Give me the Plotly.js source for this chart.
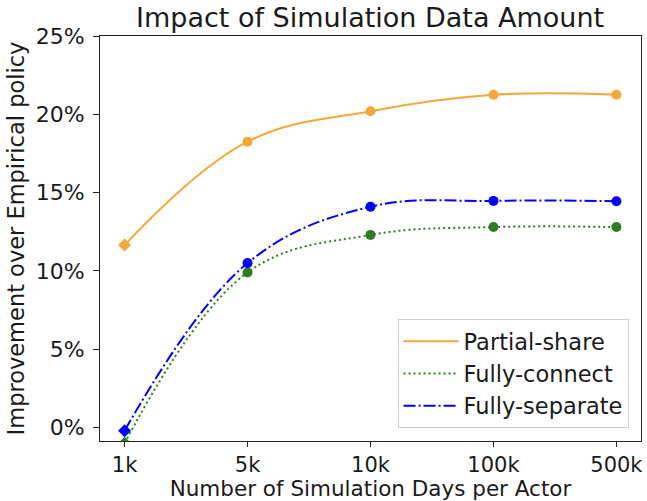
<!DOCTYPE html>
<html><head><meta charset="utf-8">
<script src="https://cdn.plot.ly/plotly-3.0.1.min.js"></script>
<style>body{margin:0;background:#fff}#chart{width:647px;height:501px}</style>
</head><body><div id="chart"></div>
<script>
const categories = ['1k', '5k', '10k', '100k', '500k'];
const partialShare = [11.65, 18.25, 20.2, 21.25, 21.25];
const fullyConnect = [-1.0, 9.9, 12.3, 12.8, 12.8];
const fullySeparate = [-0.2, 10.5, 14.1, 14.47, 14.45];
const yTickVals = [0, 5, 10, 15, 20, 25];
const yTickText = ['0%', '5%', '10%', '15%', '20%', '25%'];

const cOrange = '#f4a83a', cGreen = '#2e7d22', cBlue = '#0000ff';
const symbols = categories.map((c, i) => i === 0 ? 'diamond' : 'circle');

function lineTrace(y, name, color, dash) {
  return {x: categories, y: y, name: name, type: 'scatter', mode: 'lines',
    line: {color: color, width: 2, dash: dash, shape: 'spline', smoothing: 1.1}};
}
function markerTrace(y, color) {
  return {x: categories, y: y, type: 'scatter', mode: 'markers', showlegend: false,
    hoverinfo: 'skip', marker: {color: color, size: 10, symbol: symbols}};
}

const data = [
  lineTrace(partialShare, 'Partial-share', cOrange, 'solid'),
  lineTrace(fullyConnect, 'Fully-connect', cGreen, '2px,3px'),
  lineTrace(fullySeparate, 'Fully-separate', cBlue, '12px,3px,2px,3px'),
  markerTrace(partialShare, cOrange),
  markerTrace(fullyConnect, cGreen),
  markerTrace(fullySeparate, cBlue)
];

const font = {family: 'DejaVu Sans', color: '#1a1a1a'};
const layout = {
  width: 647, height: 501,
  margin: {l: 100, r: 6, t: 36, b: 60},
  paper_bgcolor: '#fff', plot_bgcolor: '#fff',
  font: Object.assign({size: 22}, font),
  title: {text: 'Impact of Simulation Data Amount', x: 0.572, xanchor: 'center',
    y: 0.964, yanchor: 'middle', font: Object.assign({size: 27}, font)},
  xaxis: {type: 'category', range: [-0.2, 4.2], showgrid: false, zeroline: false,
    showline: true, mirror: true, linecolor: '#222', linewidth: 1,
    ticks: 'outside', ticklen: 5, tickcolor: '#222',
    tickfont: Object.assign({size: 21}, font),
    title: {text: 'Number of Simulation Days per Actor', standoff: 4, font: Object.assign({size: 21.5}, font)}},
  yaxis: {range: [-0.86, 25], showgrid: false, zeroline: false,
    tickvals: yTickVals, ticktext: yTickText,
    showline: true, mirror: true, linecolor: '#222', linewidth: 1,
    ticks: 'outside', ticklen: 6, tickcolor: '#222', ticklabelstandoff: 4,
    tickfont: Object.assign({size: 22}, font),
    title: {text: 'Improvement over Empirical policy', standoff: 4, font: Object.assign({size: 22.5}, font)}},
  legend: {x: 0.977, xanchor: 'right', y: 0.032, yanchor: 'bottom',
    bgcolor: '#fff', bordercolor: '#d0d0d0', borderwidth: 1, itemwidth: 55,
    font: Object.assign({size: 22.5}, font)},
  showlegend: true
};
Plotly.newPlot('chart', data, layout, {displayModeBar: false, staticPlot: true});
</script></body></html>
